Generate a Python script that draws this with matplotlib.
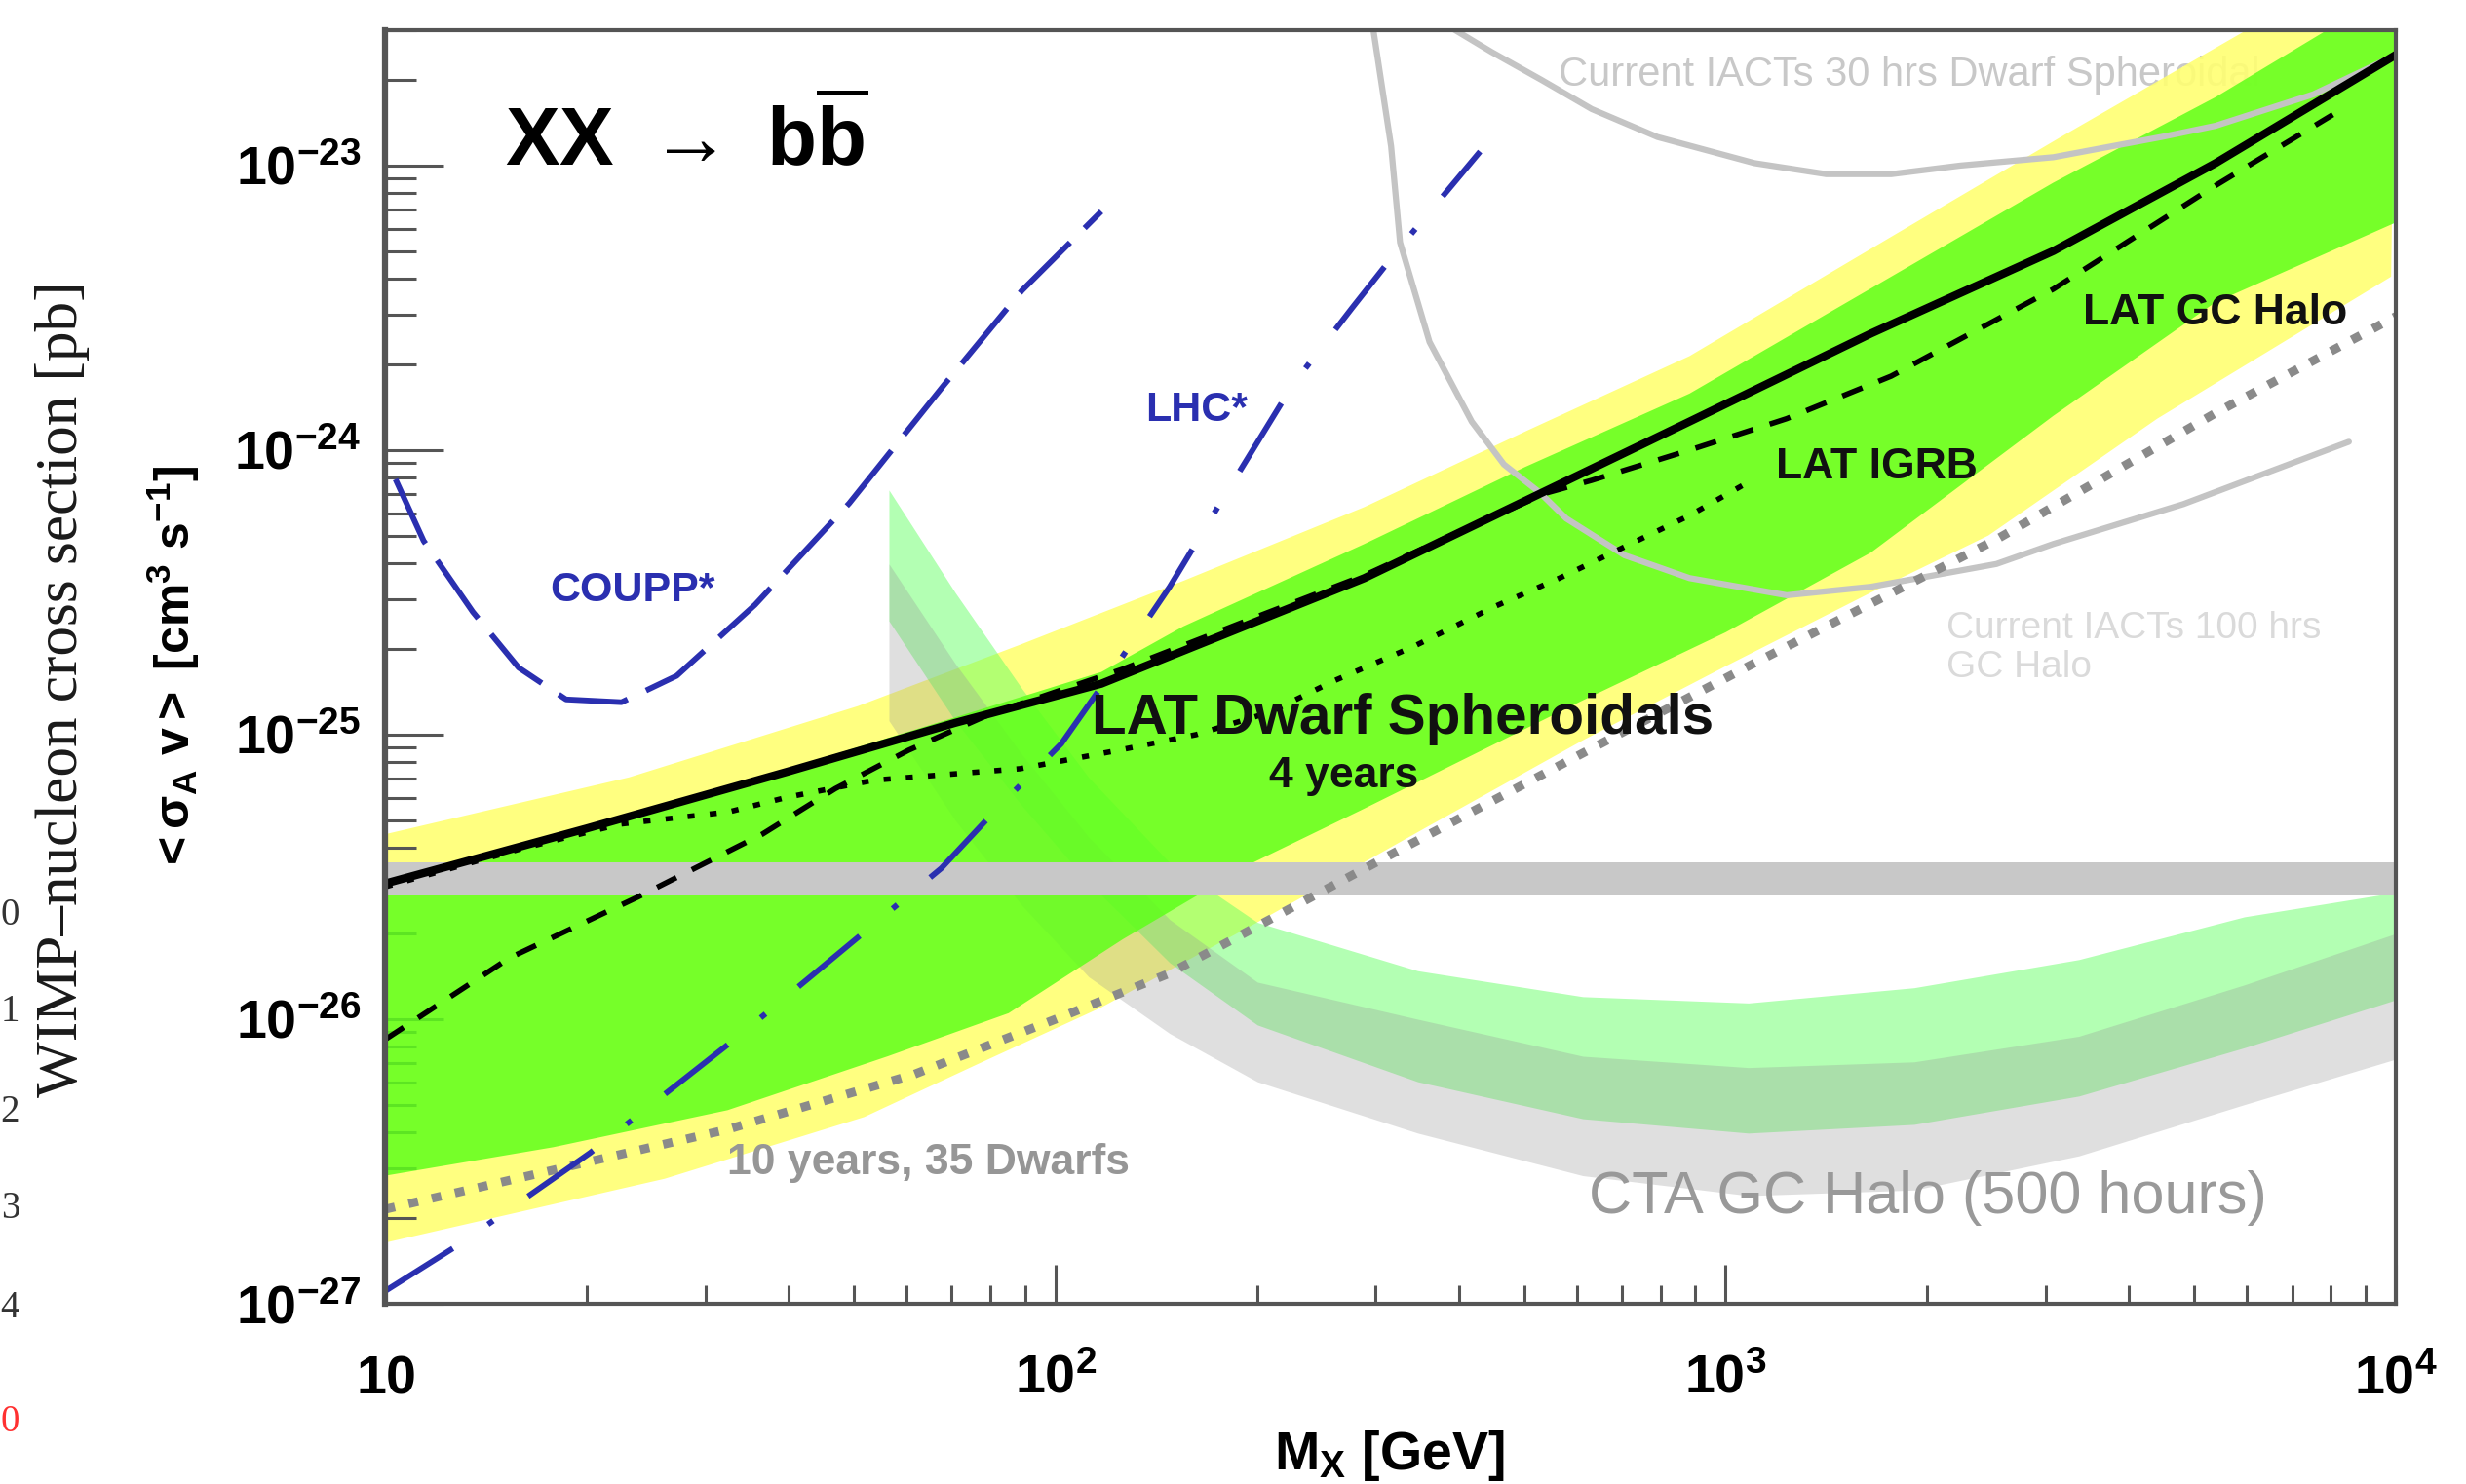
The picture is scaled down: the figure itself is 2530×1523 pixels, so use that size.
import matplotlib
matplotlib.use("Agg")
import matplotlib.pyplot as plt
from matplotlib.ticker import FixedLocator, LogLocator, NullFormatter

plt.rcParams['font.family'] = ['Liberation Sans', 'DejaVu Sans']
plt.rcParams['mathtext.fontset'] = 'custom'
plt.rcParams['mathtext.rm'] = 'Liberation Sans'
plt.rcParams['mathtext.bf'] = 'Liberation Sans:bold'
plt.rcParams['mathtext.it'] = 'Liberation Sans:italic'

# ---- data: WIMP mass [GeV] and <sigma v> [cm^3 s^-1] ----
# LAT dwarf spheroidals, 4 years (limit)
dwarf_m = [10, 19.95, 39.8, 70.8, 117, 289, 505, 883, 1648, 3083, 5383, 10000]
dwarf_sv = [3.0e-26, 4.68e-26, 7.41e-26, 1.10e-25, 1.51e-25, 3.55e-25, 6.68e-25, 1.26e-24,
            2.57e-24, 5.01e-24, 1.02e-23, 2.45e-23]

# LAT GC halo
gc_m = [10, 15.3, 23.9, 36.5, 46.9, 60.3, 79.4, 126, 200, 289, 398, 541, 631, 883, 1233,
        1766, 3083, 5383, 8054]
gc_sv = [8.5e-27, 1.64e-26, 2.70e-26, 4.47e-26, 6.46e-26, 8.81e-26, 1.175e-25, 1.70e-25,
         2.60e-25, 3.63e-25, 5.13e-25, 7.08e-25, 7.83e-25, 1.0e-24, 1.29e-24, 1.82e-24,
         3.68e-24, 8.51e-24, 1.51e-23]

# LAT IGRB
igrb_m = [10, 15.8, 22.4, 32.5, 39.8, 53.6, 88.5, 124, 162, 209, 261, 342, 452, 565, 706, 883, 1104]
igrb_sv = [2.92e-26, 3.95e-26, 4.85e-26, 5.35e-26, 6.03e-26, 6.92e-26, 7.59e-26, 8.81e-26,
           1.0e-25, 1.20e-25, 1.55e-25, 2.04e-25, 2.82e-25, 3.55e-25, 4.57e-25, 5.89e-25, 7.94e-25]

# LAT 10 years, 35 dwarfs (projection)
proj_m = [10, 17.8, 32.4, 61.5, 100, 148, 301, 612, 1081, 2553, 5383, 10000]
proj_sv = [2.15e-27, 2.95e-27, 4.10e-27, 6.40e-27, 1.0e-26, 1.45e-26, 3.56e-26, 8.61e-26,
           1.74e-25, 4.90e-25, 1.35e-24, 2.95e-24]

# expected-sensitivity bands of the dwarf analysis
band2_hi_m = [10, 23.1, 50.7, 88.5, 155, 289, 505, 883, 1766, 3162, 6026, 10000]
band2_hi_sv = [4.47e-26, 7.08e-26, 1.26e-25, 2.07e-25, 3.47e-25, 6.31e-25, 1.17e-24,
               2.14e-24, 5.62e-24, 1.26e-23, 3.02e-23, 5.89e-23]
band1_hi_m = [10, 19.95, 39.8, 70.8, 117, 155, 289, 501, 883, 1766, 3083, 5383, 7943, 10000]
band1_hi_sv = [3.09e-26, 4.79e-26, 7.59e-26, 1.15e-25, 1.66e-25, 2.40e-25, 4.68e-25, 8.71e-25,
               1.58e-24, 4.07e-24, 8.71e-24, 1.74e-23, 3.02e-23, 4.17e-23]
band1_lo_m = [10, 17.8, 32.4, 56.2, 85.1, 126, 197, 289, 612, 1000, 1648, 3083, 5383, 10000]
band1_lo_sv = [2.82e-27, 3.55e-27, 4.79e-27, 7.41e-27, 1.05e-26, 1.91e-26, 3.55e-26, 5.50e-26,
               1.32e-25, 2.29e-25, 4.37e-25, 1.32e-24, 3.31e-24, 6.31e-24]
band2_lo_m = [10, 26.1, 51.8, 76, 117, 200, 355, 612, 1000, 1648, 2466, 4406, 9840]
band2_lo_sv = [1.64e-27, 2.75e-27, 4.53e-27, 6.90e-27, 1.10e-26, 2.19e-26, 4.68e-26, 9.55e-26,
               1.74e-25, 3.16e-25, 5.01e-25, 1.29e-24, 4.07e-24]

# thermal relic cross section
thermal_lo, thermal_hi = 2.72e-26, 3.55e-26

# CTA GC halo, 500 hours (two bands)
cta_m = [56.4, 70.8, 89.1, 112, 148, 200, 347, 612, 1081, 1910, 3365, 5943, 10000]
cta_green_hi = [7.24e-25, 3.16e-25, 1.45e-25, 7.08e-26, 3.55e-26, 2.19e-26, 1.48e-26, 1.20e-26,
                1.14e-26, 1.29e-26, 1.62e-26, 2.29e-26, 2.79e-26]
cta_green_lo = [2.51e-25, 1.12e-25, 5.62e-26, 3.02e-26, 1.58e-26, 9.55e-27, 6.03e-27, 4.47e-27,
                3.98e-27, 4.27e-27, 5.37e-27, 7.94e-27, 1.17e-26]
cta_gray_hi = [3.98e-25, 1.78e-25, 8.51e-26, 4.37e-26, 2.24e-26, 1.35e-26, 1.0e-26, 7.41e-27,
               6.76e-27, 7.08e-27, 8.71e-27, 1.32e-26, 2.0e-26]
cta_gray_lo = [1.12e-25, 5.01e-26, 2.51e-26, 1.41e-26, 8.91e-27, 6.03e-27, 3.98e-27, 2.82e-27,
               2.40e-27, 2.51e-27, 3.31e-27, 5.01e-27, 7.24e-27]

# current IACTs
iact100_m = [295, 316.7, 326.6, 361.4, 417.8, 466.7, 528.4, 578.1, 706.3, 883.1, 1233, 1648,
             2535, 3083, 4819, 8511]
iact100_sv = [3.5e-23, 1.17e-23, 5.37e-24, 2.40e-24, 1.26e-24, 8.91e-25, 7.08e-25, 5.75e-25,
              4.27e-25, 3.55e-25, 3.09e-25, 3.31e-25, 3.98e-25, 4.68e-25, 6.46e-25, 1.07e-24]
iact30_m = [385, 447, 531, 631, 791, 1104, 1413, 1766, 2239, 3083, 4467, 5383, 7534, 9840]
iact30_sv = [3.1e-23, 2.51e-23, 2.00e-23, 1.58e-23, 1.26e-23, 1.02e-23, 9.33e-24, 9.33e-24,
             1.0e-23, 1.07e-23, 1.26e-23, 1.38e-23, 1.78e-23, 2.40e-23]

# direct detection / collider, converted
coupp_m = [10.35, 11.4, 13.5, 15.8, 18.6, 22.5, 27.2, 35.6, 49.2, 68.1, 89.1, 117]
coupp_sv = [7.9e-25, 4.8e-25, 2.7e-25, 1.72e-25, 1.33e-25, 1.30e-25, 1.61e-25, 2.86e-25,
            6.5e-25, 1.69e-24, 3.64e-24, 6.9e-24]
lhc_m = [10, 12.9, 20.2, 33.4, 43.7, 67.5, 81.8, 102, 123, 148, 180, 226, 277, 323, 430]
lhc_sv = [1.11e-27, 1.62e-27, 3.39e-27, 8.6e-27, 1.45e-26, 3.39e-26, 5.5e-26, 9.3e-26,
          1.74e-25, 3.31e-25, 7.1e-25, 1.70e-24, 3.16e-24, 5.0e-24, 1.12e-23]

x_ticks = [10, 100, 1000, 10000]
x_ticklabels = [r'$\mathbf{10}$', r'$\mathbf{10^{2}}$', r'$\mathbf{10^{3}}$', r'$\mathbf{10^{4}}$']
y_ticks = [1e-27, 1e-26, 1e-25, 1e-24, 1e-23]
y_ticklabels = [r'$\mathbf{10^{-27}}$', r'$\mathbf{10^{-26}}$', r'$\mathbf{10^{-25}}$',
                r'$\mathbf{10^{-24}}$', r'$\mathbf{10^{-23}}$']

blue = '#2a2fb0'
frame = '#555555'

fig = plt.figure(figsize=(25.3, 15.23), dpi=100)
ax = fig.add_axes([0.15632, 0.12147, 0.81522, 0.85844])
ax.set_xscale('log')
ax.set_yscale('log')
ax.set_xlim(10, 1e4)
ax.set_ylim(1e-27, 3.0e-23)

# 95% band, CTA bands over it, then 68% band
ax.fill(band2_lo_m + band2_hi_m[::-1], band2_lo_sv + band2_hi_sv[::-1], color='#ffff72',
        alpha=0.9, lw=0, zorder=1)
ax.fill_between(cta_m, cta_green_lo, cta_green_hi, color='#64ff64', alpha=0.49, lw=0, zorder=2)
ax.fill_between(cta_m, cta_gray_lo, cta_gray_hi, color='#969696', alpha=0.3, lw=0, zorder=2.1)
ax.fill(band1_lo_m + band1_hi_m[::-1], band1_lo_sv + band1_hi_sv[::-1], color='#5eff1a',
        alpha=0.85, lw=0, zorder=2.5)

ax.axhspan(thermal_lo, thermal_hi, color='#c8c8c8', lw=0, zorder=3)

# IACT curves
ax.plot(iact100_m, iact100_sv, color='#c4c4c4', lw=4.5, zorder=4, solid_capstyle='round')
ax.plot(iact30_m, iact30_sv, color='#c4c4c4', lw=4.5, zorder=4, solid_capstyle='round')

# projection
ax.plot(proj_m, proj_sv, color='#8a8a8a', lw=6.5, dashes=(1.1, 1.6), zorder=5)

# COUPP and LHC
ax.plot(coupp_m, coupp_sv, color=blue, lw=4.2, dashes=(12.5, 3.6), zorder=5)
ax.plot(lhc_m, lhc_sv, color=blue, lw=4.2, dashes=(14, 7.5, 1.1, 7.5), zorder=5)

# LAT limits
ax.plot(igrb_m, igrb_sv, color='black', lw=4, dashes=(1.3, 2.8), zorder=6)
ax.plot(gc_m, gc_sv, color='black', lw=4, dashes=(4.0, 3.2), zorder=6)
ax.plot(dwarf_m, dwarf_sv, color='black', lw=6, zorder=7)

# axes styling
for name, s in ax.spines.items():
    s.set_color(frame)
    s.set_linewidth(4.5 if name == 'left' else 3)
    s.set_zorder(10)
ax.xaxis.set_major_locator(FixedLocator(x_ticks))
ax.xaxis.set_minor_locator(LogLocator(base=10, subs=range(2, 10), numticks=20))
ax.xaxis.set_minor_formatter(NullFormatter())
ax.yaxis.set_major_locator(FixedLocator(y_ticks))
ax.yaxis.set_minor_locator(LogLocator(base=10, subs=range(2, 10), numticks=20))
ax.yaxis.set_minor_formatter(NullFormatter())
ax.set_xticklabels(x_ticklabels, va='baseline')
ax.set_yticklabels(y_ticklabels)
ax.tick_params(axis='y', which='major', direction='in', length=43, width=2.2, color=frame,
               labelsize=40, pad=18)
ax.tick_params(axis='y', which='minor', direction='in', length=23, width=2.2, color=frame)
ax.tick_params(axis='x', which='major', direction='in', length=29, width=2.2, color=frame,
               labelsize=40, pad=66)
ax.tick_params(axis='x', which='minor', direction='in', length=14, width=2.2, color=frame)

# labels inside the plot
ax.text(0.0594, 0.8934, r'XX $\rightarrow$ b$\overline{\mathbf{b}}$', transform=ax.transAxes,
        fontsize=60, fontweight='bold', va='baseline', zorder=9)
ax.text(0.0817, 0.5515, 'COUPP*', transform=ax.transAxes, fontsize=31, fontweight='bold',
        color=blue, va='baseline', zorder=9)
ax.text(0.378, 0.693, 'LHC*', transform=ax.transAxes, fontsize=31, fontweight='bold',
        color=blue, va='baseline', zorder=9)
ax.text(0.3513, 0.4475, 'LAT Dwarf Spheroidals', transform=ax.transAxes, fontsize=42,
        fontweight='bold', color='#111111', va='baseline', zorder=9)
ax.text(0.4397, 0.4054, '4 years', transform=ax.transAxes, fontsize=32, fontweight='bold',
        color='#111111', va='baseline', zorder=9)
ax.text(0.8444, 0.7687, 'LAT GC Halo', transform=ax.transAxes, fontsize=32, fontweight='bold',
        color='#111111', va='baseline', zorder=9)
ax.text(0.6915, 0.6478, 'LAT IGRB', transform=ax.transAxes, fontsize=32, fontweight='bold',
        color='#111111', va='baseline', zorder=9)
ax.text(0.5835, 0.956, 'Current IACTs 30 hrs Dwarf Spheroidal', transform=ax.transAxes,
        fontsize=30, color='#c8c8c8', va='baseline', zorder=0.5)
ax.text(0.7765, 0.5224, 'Current IACTs 100 hrs', transform=ax.transAxes, fontsize=28,
        color='#dadada', va='baseline', zorder=9)
ax.text(0.7765, 0.4918, 'GC Halo', transform=ax.transAxes, fontsize=28,
        color='#dadada', va='baseline', zorder=9)
ax.text(0.1699, 0.1017, '10 years, 35 Dwarfs', transform=ax.transAxes, fontsize=32,
        fontweight='bold', color='#969696', va='baseline', zorder=9)
ax.text(0.5985, 0.0711, 'CTA GC Halo (500 hours)', transform=ax.transAxes, fontsize=44,
        color='#999999', va='baseline', zorder=9)

# axis titles
fig.text(0.5632, 0.00985, r'$\mathbf{M_X}$ [GeV]', fontsize=40, fontweight='bold',
         ha='center', va='baseline')
fig.text(0.0705, 0.549, r'$\mathbf{<\sigma_{A}\ v>\ [cm^{3}\ s^{-1}]}$', fontsize=36,
         rotation=90, ha='center', va='center')

# edge of the neighbouring panel
fig.text(0.0253, 0.5358, 'WIMP\u2013nucleon cross section [pb]', family='Liberation Serif',
         fontsize=44, rotation=90, ha='center', va='center', color='#1a1a1a')
for lab, yy in zip(['0', '1', '2', '3', '4'], [0.3828, 0.3178, 0.2502, 0.1858, 0.1182]):
    fig.text(0.0079, yy, lab, family='Liberation Serif', fontsize=28, ha='right', va='center',
             color='#333333')
fig.text(0.0079, 0.0414, '0', family='Liberation Serif', fontsize=28, ha='right', va='center',
         color='#ff3030')

fig.savefig('out.png', dpi=100)
